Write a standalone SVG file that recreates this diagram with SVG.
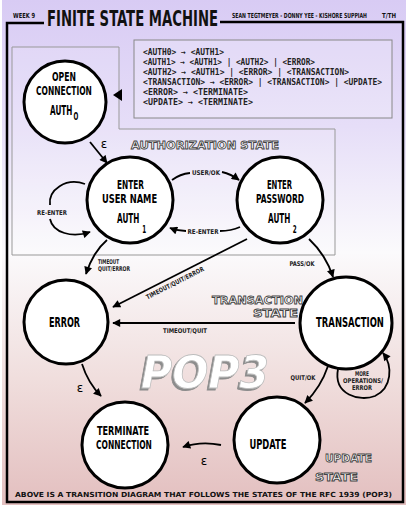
<svg xmlns="http://www.w3.org/2000/svg" width="410" height="510" viewBox="0 0 410 510">
<defs>
<linearGradient id="bg" x1="0" y1="0" x2="0" y2="1">
<stop offset="0" stop-color="#d8cbf4"/>
<stop offset="0.25" stop-color="#e6def8"/>
<stop offset="0.5" stop-color="#fbfafc"/>
<stop offset="0.75" stop-color="#f0dedd"/>
<stop offset="1" stop-color="#e3bfbf"/>
</linearGradient>
<filter id="shadow" x="-10%" y="-20%" width="120%" height="140%">
<feOffset in="SourceAlpha" dx="-2" dy="2" result="o"/>
<feFlood flood-color="#8c8c8c"/>
<feComposite in2="o" operator="in" result="s"/>
<feMerge><feMergeNode in="s"/><feMergeNode in="SourceGraphic"/></feMerge>
</filter>
<marker id="ah" viewBox="0 0 10 10" refX="9" refY="5" markerWidth="9" markerHeight="8" markerUnits="userSpaceOnUse" orient="auto">
<path d="M0,0 L10,5 L0,10 z" fill="#000"/>
</marker>
<style>
.node circle{fill:#fff;stroke:#000;stroke-width:3}
.n{font-family:"DejaVu Sans Condensed","DejaVu Sans",sans-serif;font-weight:bold;font-size:13.5px;fill:#000;text-anchor:middle}
.n2{font-size:12.4px}
.sub{font-size:10.5px}
.c path{fill:none;stroke:#000;stroke-width:1.8}
.lbl{font-family:"DejaVu Sans Condensed","DejaVu Sans",sans-serif;font-weight:bold;font-size:6.5px;fill:#222;text-anchor:middle}
.eps{font-family:"DejaVu Sans","Liberation Sans",sans-serif;font-size:12px;fill:#000;text-anchor:middle}
.st{font-family:"DejaVu Sans","Liberation Sans",sans-serif;font-weight:bold;font-size:10px;fill:#fff;stroke:#444;stroke-width:0.8}
.rule{font-family:"DejaVu Sans Mono","Liberation Mono",monospace;font-weight:bold;font-size:8px;fill:#222}
.hdr{font-family:"DejaVu Sans Condensed","DejaVu Sans",sans-serif;font-weight:bold;fill:#111}
</style>
</defs>
<rect x="0" y="0" width="410" height="510" fill="#fff"/>
<rect x="2" y="0" width="404" height="505" fill="url(#bg)"/>
<!-- frame -->
<path d="M44 23 H7 V502 H403 V22 H220" fill="none" stroke="#000" stroke-width="2.5"/>
<text class="hdr" x="13" y="18" font-size="7" textLength="22" lengthAdjust="spacingAndGlyphs">WEEK 9</text>
<text class="hdr" transform="translate(47 26) scale(0.6 1)" x="0" y="0" font-size="21" fill="#000" textLength="285" lengthAdjust="spacingAndGlyphs">FINITE STATE MACHINE</text>
<text class="hdr" transform="translate(232 18) scale(0.6 1)" x="0" y="0" font-size="7" textLength="225" lengthAdjust="spacingAndGlyphs">SEAN TEGTMEYER - DONNY YEE - KISHORE SUPPIAH</text>
<text class="hdr" x="382" y="18" font-size="7" textLength="14" lengthAdjust="spacingAndGlyphs">T/TH</text>
<!-- rules box -->
<g id="rules">
<rect x="134" y="40" width="258" height="78" fill="#fff" fill-opacity="0.2" stroke="#888" stroke-width="1"/>
<text class="rule" x="143" y="54.5" textLength="81" lengthAdjust="spacingAndGlyphs">&lt;AUTH0&gt; → &lt;AUTH1&gt;</text>
<text class="rule" x="143" y="64.5" textLength="172" lengthAdjust="spacingAndGlyphs">&lt;AUTH1&gt; → &lt;AUTH1&gt; | &lt;AUTH2&gt; | &lt;ERROR&gt;</text>
<text class="rule" x="143" y="74.5" textLength="206" lengthAdjust="spacingAndGlyphs">&lt;AUTH2&gt; → &lt;AUTH1&gt; | &lt;ERROR&gt; | &lt;TRANSACTION&gt;</text>
<text class="rule" x="143" y="84.5" textLength="239" lengthAdjust="spacingAndGlyphs">&lt;TRANSACTION&gt; → &lt;ERROR&gt; | &lt;TRANSACTION&gt; | &lt;UPDATE&gt;</text>
<text class="rule" x="143" y="94.5" textLength="105" lengthAdjust="spacingAndGlyphs">&lt;ERROR&gt; → &lt;TERMINATE&gt;</text>
<text class="rule" x="143" y="104.5" textLength="110" lengthAdjust="spacingAndGlyphs">&lt;UPDATE&gt; → &lt;TERMINATE&gt;</text>
</g>
<!-- authorization state box -->
<g id="auth-state">
<path d="M12 47 H119 V129 H335 V255 H12 Z" fill="#fff" fill-opacity="0.12" stroke="#999" stroke-width="1"/>
<path d="M113 95 L122 89 L122 101 Z" fill="#000"/>
<text class="st" x="131" y="148.5" textLength="148" lengthAdjust="spacingAndGlyphs">AUTHORIZATION STATE</text>
</g>
<g id="state-labels">
<text class="st" x="212" y="303.5" font-size="11" textLength="91" lengthAdjust="spacingAndGlyphs">TRANSACTION</text>
<text class="st" x="253" y="317" font-size="11" textLength="45" lengthAdjust="spacingAndGlyphs">STATE</text>
<text class="st" x="325" y="462" textLength="47" lengthAdjust="spacingAndGlyphs">UPDATE</text>
<text class="st" x="315" y="481" textLength="43" lengthAdjust="spacingAndGlyphs">STATE</text>
</g>
<!-- POP3 -->
<text id="pop3" x="141" y="388" font-family="DejaVu Sans, sans-serif" font-weight="bold" font-style="italic" font-size="44" fill="#fff" stroke="#bdbdbd" stroke-width="0.8" filter="url(#shadow)" textLength="128" lengthAdjust="spacingAndGlyphs">POP3</text>
<!-- connectors -->
<g id="connectors" class="c">
<path d="M90 142 L107 163" marker-end="url(#ah)"/>
<path d="M85 184 C66 177 48 190 50 205"/>
<path d="M50 219 C53 233 72 238 90 232" marker-end="url(#ah)"/>
<path d="M172 180 Q180 174 190 173"/>
<path d="M222 172 Q231 174 239 180" marker-end="url(#ah)"/>
<path d="M240 227 Q231 231 220 231"/>
<path d="M186 231 Q178 231 170 228" marker-end="url(#ah)"/>
<path d="M107 240 Q93 252 86 274" marker-end="url(#ah)"/>
<path d="M247 239 L113 307" marker-end="url(#ah)"/>
<path d="M309 239 Q326 255 333 277" marker-end="url(#ah)"/>
<path d="M295 323 L113 323" marker-end="url(#ah)"/>
<path d="M328 366 Q321 387 305 403" marker-end="url(#ah)"/>
<path d="M338 369 C333 395 360 402 375 396 C392 388 393 366 383 353" marker-end="url(#ah)"/>
<path d="M82 364 Q88 383 101 396" marker-end="url(#ah)"/>
<path d="M221 445 Q201 441 183 447" marker-end="url(#ah)"/>
</g>
<g id="connector-labels">
<text class="eps" x="104" y="148">ε</text>
<text class="lbl" x="52" y="214.5" textLength="30" lengthAdjust="spacingAndGlyphs">RE-ENTER</text>
<text class="lbl" x="206" y="175" textLength="28" lengthAdjust="spacingAndGlyphs">USER/OK</text>
<text class="lbl" x="203" y="234" textLength="31" lengthAdjust="spacingAndGlyphs">RE-ENTER</text>
<text class="lbl" x="98" y="263.5" style="text-anchor:start" textLength="21" lengthAdjust="spacingAndGlyphs">TIMEOUT</text>
<text class="lbl" x="98" y="270.5" style="text-anchor:start" textLength="32" lengthAdjust="spacingAndGlyphs">QUIT/ERROR</text>
<text class="lbl" transform="translate(176 285) rotate(-27)" x="0" y="0" textLength="64" lengthAdjust="spacingAndGlyphs">TIMEOUT/QUIT/ERROR</text>
<text class="lbl" x="302" y="265.5" textLength="25" lengthAdjust="spacingAndGlyphs">PASS/OK</text>
<text class="lbl" x="185" y="332.5" textLength="44" lengthAdjust="spacingAndGlyphs">TIMEOUT/QUIT</text>
<text class="lbl" x="303" y="379.5" textLength="25" lengthAdjust="spacingAndGlyphs">QUIT/OK</text>
<text class="lbl" x="362" y="375.5" textLength="14" lengthAdjust="spacingAndGlyphs">MORE</text>
<text class="lbl" x="363" y="382.5" textLength="40" lengthAdjust="spacingAndGlyphs">OPERATIONS/</text>
<text class="lbl" x="362" y="389.5" textLength="20" lengthAdjust="spacingAndGlyphs">ERROR</text>
<text class="eps" x="80" y="392">ε</text>
<text class="eps" x="204" y="465">ε</text>
</g>
<!-- nodes -->
<g id="auth0" class="node">
<circle cx="65" cy="102" r="41"/>
<text class="n n2" transform="translate(64 80.5) scale(0.6 1)" textLength="40" lengthAdjust="spacingAndGlyphs">OPEN</text>
<text class="n n2" transform="translate(64 95.2) scale(0.6 1)" textLength="93" lengthAdjust="spacingAndGlyphs">CONNECTION</text>
<text class="n" transform="translate(50 115) scale(0.6 1)" style="text-anchor:start">AUTH<tspan class="sub" dx="2" dy="5">O</tspan></text>
</g>
<g id="auth1" class="node">
<circle cx="130" cy="200" r="43"/>
<text class="n n2" transform="translate(130.5 188.5) scale(0.6 1)" textLength="45" lengthAdjust="spacingAndGlyphs">ENTER</text>
<text class="n n2" transform="translate(129.5 203.2) scale(0.6 1)" textLength="92" lengthAdjust="spacingAndGlyphs">USER NAME</text>
<text class="n" transform="translate(117 223) scale(0.6 1)" style="text-anchor:start">AUTH<tspan class="sub" dx="5" dy="10">1</tspan></text>
</g>
<g id="auth2" class="node">
<circle cx="280" cy="200" r="43"/>
<text class="n n2" transform="translate(279.5 188.5) scale(0.6 1)" textLength="42" lengthAdjust="spacingAndGlyphs">ENTER</text>
<text class="n n2" transform="translate(280 203.2) scale(0.6 1)" textLength="80" lengthAdjust="spacingAndGlyphs">PASSWORD</text>
<text class="n" transform="translate(268 223) scale(0.6 1)" style="text-anchor:start">AUTH<tspan class="sub" dx="4" dy="10">2</tspan></text>
</g>
<g id="error" class="node">
<circle cx="66" cy="322" r="42"/>
<text class="n" transform="translate(64.5 327) scale(0.6 1)" textLength="52" lengthAdjust="spacingAndGlyphs">ERROR</text>
</g>
<g id="transaction" class="node">
<circle cx="346" cy="323" r="46"/>
<text class="n" transform="translate(350 327) scale(0.6 1)" textLength="113" lengthAdjust="spacingAndGlyphs">TRANSACTION</text>
</g>
<g id="terminate" class="node">
<circle cx="125" cy="445" r="43"/>
<text class="n n2" transform="translate(123 434.5) scale(0.6 1)" textLength="87" lengthAdjust="spacingAndGlyphs">TERMINATE</text>
<text class="n n2" transform="translate(124 449.2) scale(0.6 1)" textLength="93" lengthAdjust="spacingAndGlyphs">CONNECTION</text>
</g>
<g id="update" class="node">
<circle cx="277" cy="440" r="43"/>
<text class="n" transform="translate(268 449) scale(0.6 1)" textLength="62" lengthAdjust="spacingAndGlyphs">UPDATE</text>
</g>
<text x="15" y="497" font-family="DejaVu Sans, sans-serif" font-weight="bold" font-size="7" fill="#111" textLength="377" lengthAdjust="spacingAndGlyphs">ABOVE IS A TRANSITION DIAGRAM THAT FOLLOWS THE STATES OF THE RFC 1939 (POP3)</text>
</svg>
